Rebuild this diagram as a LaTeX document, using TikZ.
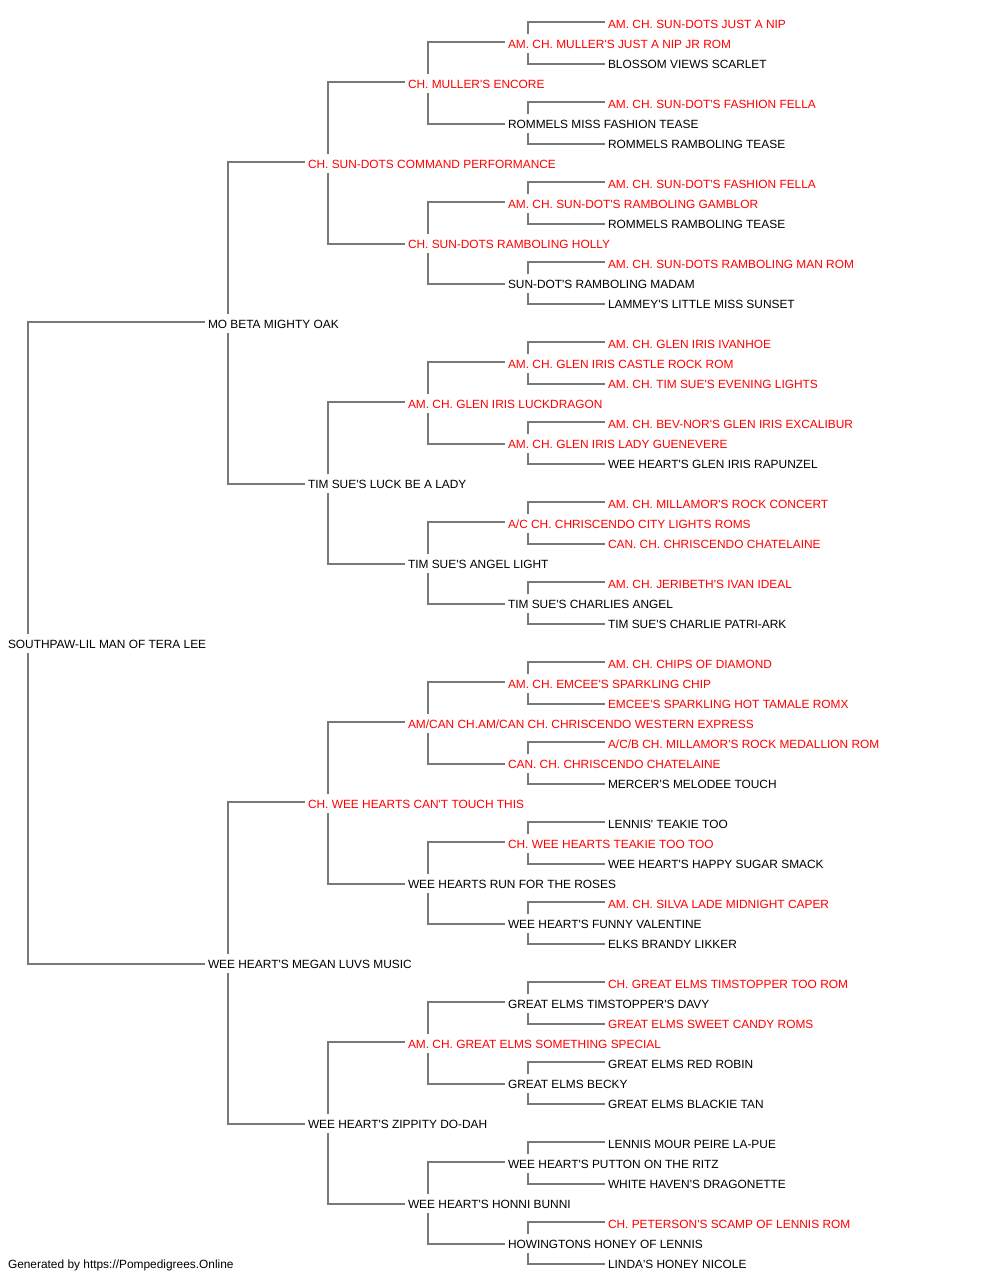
\documentclass[tikz,border=0pt]{standalone}
\usepackage{fontspec}
\setmainfont{Liberation Sans}[Ligatures=TeXOff]
\usetikzlibrary{calc}
\definecolor{champ}{RGB}{255,0,0}
\definecolor{plain}{RGB}{0,0,0}
\definecolor{linegray}{RGB}{120,120,120}
\tikzset{
  dog/.style={anchor=base west,inner sep=0pt,outer sep=0pt,font=\fontsize{11.9bp}{14bp}\selectfont},
  ch/.style={dog,text=champ},
  nc/.style={dog,text=plain},
  pedline/.style={draw=linegray,line width=1.3bp}
}
\newcommand\pn[4]{\node[#3] (n#1) at (#2,{28+20*#1}) {#4};}
\newcommand\pedlink[2]{%
  \pgfmathtruncatemacro\sire{#1-#2}%
  \pgfmathtruncatemacro\dam{#1+#2}%
  \draw[pedline] ($(n\sire.base west)+(-3,-6)$) -| ($(n#1.base west)+(20,-14)$);
  \draw[pedline] ($(n\dam.base west)+(-3,-4)$) -| ($(n#1.base west)+(20,5)$);
}
\begin{document}
\begin{tikzpicture}[x=1bp,y=-1bp]
\useasboundingbox (0,0) rectangle (1000,1280);
\pn{0}{608}{ch}{AM. CH. SUN-DOTS JUST A NIP}
\pn{1}{508}{ch}{AM. CH. MULLER'S JUST A NIP JR ROM}
\pn{2}{608}{nc}{BLOSSOM VIEWS SCARLET}
\pn{3}{408}{ch}{CH. MULLER'S ENCORE}
\pn{4}{608}{ch}{AM. CH. SUN-DOT'S FASHION FELLA}
\pn{5}{508}{nc}{ROMMELS MISS FASHION TEASE}
\pn{6}{608}{nc}{ROMMELS RAMBOLING TEASE}
\pn{7}{308}{ch}{CH. SUN-DOTS COMMAND PERFORMANCE}
\pn{8}{608}{ch}{AM. CH. SUN-DOT'S FASHION FELLA}
\pn{9}{508}{ch}{AM. CH. SUN-DOT'S RAMBOLING GAMBLOR}
\pn{10}{608}{nc}{ROMMELS RAMBOLING TEASE}
\pn{11}{408}{ch}{CH. SUN-DOTS RAMBOLING HOLLY}
\pn{12}{608}{ch}{AM. CH. SUN-DOTS RAMBOLING MAN ROM}
\pn{13}{508}{nc}{SUN-DOT'S RAMBOLING MADAM}
\pn{14}{608}{nc}{LAMMEY'S LITTLE MISS SUNSET}
\pn{15}{208}{nc}{MO BETA MIGHTY OAK}
\pn{16}{608}{ch}{AM. CH. GLEN IRIS IVANHOE}
\pn{17}{508}{ch}{AM. CH. GLEN IRIS CASTLE ROCK ROM}
\pn{18}{608}{ch}{AM. CH. TIM SUE'S EVENING LIGHTS}
\pn{19}{408}{ch}{AM. CH. GLEN IRIS LUCKDRAGON}
\pn{20}{608}{ch}{AM. CH. BEV-NOR'S GLEN IRIS EXCALIBUR}
\pn{21}{508}{ch}{AM. CH. GLEN IRIS LADY GUENEVERE}
\pn{22}{608}{nc}{WEE HEART'S GLEN IRIS RAPUNZEL}
\pn{23}{308}{nc}{TIM SUE'S LUCK BE A LADY}
\pn{24}{608}{ch}{AM. CH. MILLAMOR'S ROCK CONCERT}
\pn{25}{508}{ch}{A/C CH. CHRISCENDO CITY LIGHTS ROMS}
\pn{26}{608}{ch}{CAN. CH. CHRISCENDO CHATELAINE}
\pn{27}{408}{nc}{TIM SUE'S ANGEL LIGHT}
\pn{28}{608}{ch}{AM. CH. JERIBETH'S IVAN IDEAL}
\pn{29}{508}{nc}{TIM SUE'S CHARLIES ANGEL}
\pn{30}{608}{nc}{TIM SUE'S CHARLIE PATRI-ARK}
\pn{31}{8}{nc}{SOUTHPAW-LIL MAN OF TERA LEE}
\pn{32}{608}{ch}{AM. CH. CHIPS OF DIAMOND}
\pn{33}{508}{ch}{AM. CH. EMCEE'S SPARKLING CHIP}
\pn{34}{608}{ch}{EMCEE'S SPARKLING HOT TAMALE ROMX}
\pn{35}{408}{ch}{AM/CAN CH.AM/CAN CH. CHRISCENDO WESTERN EXPRESS}
\pn{36}{608}{ch}{A/C/B CH. MILLAMOR'S ROCK MEDALLION ROM}
\pn{37}{508}{ch}{CAN. CH. CHRISCENDO CHATELAINE}
\pn{38}{608}{nc}{MERCER'S MELODEE TOUCH}
\pn{39}{308}{ch}{CH. WEE HEARTS CAN'T TOUCH THIS}
\pn{40}{608}{nc}{LENNIS' TEAKIE TOO}
\pn{41}{508}{ch}{CH. WEE HEARTS TEAKIE TOO TOO}
\pn{42}{608}{nc}{WEE HEART'S HAPPY SUGAR SMACK}
\pn{43}{408}{nc}{WEE HEARTS RUN FOR THE ROSES}
\pn{44}{608}{ch}{AM. CH. SILVA LADE MIDNIGHT CAPER}
\pn{45}{508}{nc}{WEE HEART'S FUNNY VALENTINE}
\pn{46}{608}{nc}{ELKS BRANDY LIKKER}
\pn{47}{208}{nc}{WEE HEART'S MEGAN LUVS MUSIC}
\pn{48}{608}{ch}{CH. GREAT ELMS TIMSTOPPER TOO ROM}
\pn{49}{508}{nc}{GREAT ELMS TIMSTOPPER'S DAVY}
\pn{50}{608}{ch}{GREAT ELMS SWEET CANDY ROMS}
\pn{51}{408}{ch}{AM. CH. GREAT ELMS SOMETHING SPECIAL}
\pn{52}{608}{nc}{GREAT ELMS RED ROBIN}
\pn{53}{508}{nc}{GREAT ELMS BECKY}
\pn{54}{608}{nc}{GREAT ELMS BLACKIE TAN}
\pn{55}{308}{nc}{WEE HEART'S ZIPPITY DO-DAH}
\pn{56}{608}{nc}{LENNIS MOUR PEIRE LA-PUE}
\pn{57}{508}{nc}{WEE HEART'S PUTTON ON THE RITZ}
\pn{58}{608}{nc}{WHITE HAVEN'S DRAGONETTE}
\pn{59}{408}{nc}{WEE HEART'S HONNI BUNNI}
\pn{60}{608}{ch}{CH. PETERSON'S SCAMP OF LENNIS ROM}
\pn{61}{508}{nc}{HOWINGTONS HONEY OF LENNIS}
\pn{62}{608}{nc}{LINDA'S HONEY NICOLE}
\node[nc] (footer) at (8,1268) {Generated by https://Pompedigrees.Online};
\foreach \r in {1,5,...,61} {\pedlink{\r}{1}}
\foreach \r in {3,11,...,59} {\pedlink{\r}{2}}
\foreach \r in {7,23,39,55} {\pedlink{\r}{4}}
\foreach \r in {15,47} {\pedlink{\r}{8}}
\pedlink{31}{16}
\end{tikzpicture}
\end{document}
